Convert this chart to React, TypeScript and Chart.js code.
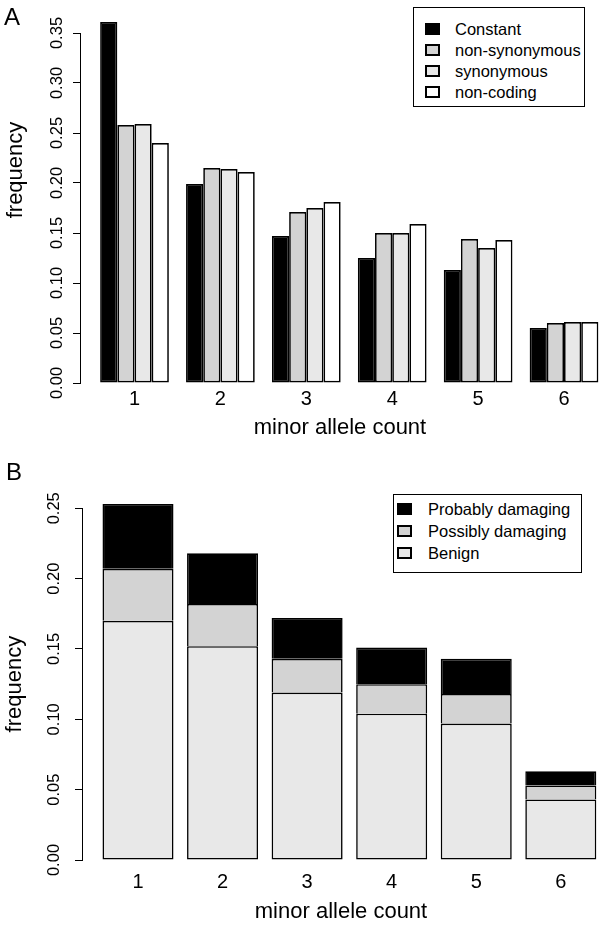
import React, { useEffect, useRef } from "react";
import { Chart, registerables } from "chart.js";

Chart.register(...registerables);

const FONT = '"Liberation Sans", Arial, Helvetica, sans-serif';

// ---------- Panel A data ----------
const minorAlleleCounts = [1, 2, 3, 4, 5, 6];
const seriesA = ["Constant", "non-synonymous", "synonymous", "non-coding"];
const constantFreq = [0.361, 0.199, 0.147, 0.125, 0.113, 0.055];
const nonSynonymousFreq = [0.258, 0.215, 0.171, 0.15, 0.144, 0.06];
const synonymousFreq = [0.259, 0.214, 0.175, 0.15, 0.135, 0.061];
const nonCodingFreq = [0.24, 0.211, 0.181, 0.159, 0.143, 0.061];
const yTicksA = [0, 0.05, 0.1, 0.15, 0.2, 0.25, 0.3, 0.35];

// ---------- Panel B data ----------
const seriesB = ["Probably damaging", "Possibly damaging", "Benign"];
const probablyDamaging = [0.046, 0.036, 0.029, 0.026, 0.025, 0.01];
const possiblyDamaging = [0.037, 0.03, 0.024, 0.021, 0.021, 0.01];
const benign = [0.17, 0.152, 0.119, 0.104, 0.097, 0.043];
const yTicksB = [0, 0.05, 0.1, 0.15, 0.2, 0.25];

// ---------- styles ----------
const fillsA = ["#000000", "#d3d3d3", "#e8e8e8", "#ffffff"];
const fillsB = ["#000000", "#d3d3d3", "#e8e8e8"];

const pts = (vals: number[]) => minorAlleleCounts.map((x, i) => ({ x, y: vals[i] }));

function yScale(ticks: number[], max: number, width: number, pad: number, title?: string) {
  return {
    type: "linear",
    min: 0,
    max,
    bounds: "data",
    afterBuildTicks: (s: any) => {
      s.ticks = ticks.map((v) => ({ value: v }));
    },
    afterFit: (s: any) => {
      s.width = width;
    },
    grid: {
      display: true,
      drawOnChartArea: false,
      drawTicks: true,
      tickLength: 7,
      color: "#000",
      lineWidth: 1,
    },
    border: { display: true, color: "#000", width: 1 },
    ticks: {
      font: { family: FONT, size: 16.5 },
      color: "#000",
      padding: pad,
      minRotation: 90,
      maxRotation: 90,
      crossAlign: "center",
      autoSkip: false,
      callback: (v: any) => Number(v).toFixed(2),
    },
    title: title
      ? {
          display: true,
          text: title,
          font: { family: FONT, size: 22 },
          color: "#000",
          padding: { top: 2, bottom: 0 },
        }
      : { display: false },
  };
}

function xScale(min: number, max: number, height: number, tickPad: number, titlePadBottom: number, stacked: boolean) {
  return {
    type: "linear",
    min,
    max,
    bounds: "data",
    offset: false,
    stacked,
    afterBuildTicks: (s: any) => {
      s.ticks = minorAlleleCounts.map((v) => ({ value: v }));
    },
    afterFit: (s: any) => {
      s.height = height;
    },
    grid: { display: false, drawTicks: false, offset: false },
    border: { display: false },
    ticks: {
      font: { family: FONT, size: 20 },
      color: "#000",
      padding: tickPad,
      maxRotation: 0,
      minRotation: 0,
      autoSkip: false,
      callback: (v: any) => String(v),
    },
    title: {
      display: true,
      text: "minor allele count",
      font: { family: FONT, size: 22 },
      color: "#000",
      padding: { top: 0, bottom: titlePadBottom },
    },
  };
}

function BoxLegend(props: {
  box: { left: number; top: number; width: number; height: number };
  labels: string[];
  fills: string[];
  rowCenters: number[];
  markerLeft: number;
  textLeft: number;
}) {
  const { box, labels, fills, rowCenters, markerLeft, textLeft } = props;
  return (
    <div
      style={{
        position: "absolute",
        left: box.left,
        top: box.top,
        width: box.width,
        height: box.height,
        border: "1.5px solid #000",
        boxSizing: "border-box",
        background: "#fff",
      }}
    >
      {labels.map((lab, i) => (
        <React.Fragment key={lab}>
          <div
            style={{
              position: "absolute",
              left: markerLeft,
              top: rowCenters[i] - 6,
              width: 15,
              height: 12,
              background: fills[i],
              border: "2px solid #000",
              boxSizing: "border-box",
            }}
          />
          <div
            style={{
              position: "absolute",
              left: textLeft,
              top: rowCenters[i] - 10,
              height: 20,
              lineHeight: "20px",
              fontSize: 16.5,
              whiteSpace: "nowrap",
            }}
          >
            {lab}
          </div>
        </React.Fragment>
      ))}
    </div>
  );
}

export default function App() {
  const refA = useRef<HTMLCanvasElement>(null);
  const refB = useRef<HTMLCanvasElement>(null);

  useEffect(() => {
    const valsA = [constantFreq, nonSynonymousFreq, synonymousFreq, nonCodingFreq];
    const chartA = new Chart(refA.current as HTMLCanvasElement, {
      type: "bar",
      data: {
        datasets: seriesA.map((name, i) => ({
          label: name,
          data: pts(valsA[i]),
          backgroundColor: fillsA[i],
          borderColor: "#000",
          borderWidth: 1.7,
          borderSkipped: false,
          clip: false,
          categoryPercentage: 0.8,
          barPercentage: 1,
        })),
      } as any,
      options: {
        animation: false,
        responsive: false,
        maintainAspectRatio: false,
        layout: { padding: { left: 0, right: 0, top: 33, bottom: 0 } },
        plugins: { legend: { display: false }, tooltip: { enabled: false }, title: { display: false } },
        scales: {
          x: xScale(0.3655, 6.419, 82, 4, 24, false),
          y: yScale(yTicksA, 0.35, 80, -1),
        },
      } as any,
    });

    const valsB = [benign, possiblyDamaging, probablyDamaging];
    const namesB = [seriesB[2], seriesB[1], seriesB[0]];
    const colsB = [fillsB[2], fillsB[1], fillsB[0]];
    const chartB = new Chart(refB.current as HTMLCanvasElement, {
      type: "bar",
      data: {
        datasets: namesB.map((name, i) => ({
          label: name,
          data: pts(valsB[i]),
          backgroundColor: colsB[i],
          borderColor: "#000",
          borderWidth: { left: 1.6, right: 1.6, top: 1.6, bottom: i === 0 ? 1.6 : 0 },
          borderSkipped: false,
          clip: false,
          categoryPercentage: 0.84,
          barPercentage: 1,
        })),
      } as any,
      options: {
        animation: false,
        responsive: false,
        maintainAspectRatio: false,
        layout: { padding: { left: 0, right: 0, top: 43.3, bottom: 0 } },
        plugins: { legend: { display: false }, tooltip: { enabled: false }, title: { display: false } },
        scales: {
          x: xScale(0.3378, 6.4636, 72, 10, 7, true),
          y: { ...yScale(yTicksB, 0.25, 82, 4, "frequency"), stacked: true },
        },
      } as any,
    });

    return () => {
      chartA.destroy();
      chartB.destroy();
    };
  }, []);

  return (
    <div
      style={{
        position: "absolute",
        left: 0,
        top: 0,
        width: 600,
        height: 932,
        background: "#fff",
        color: "#000",
        fontFamily: FONT,
        overflow: "hidden",
      }}
    >
      <canvas ref={refA} width={600} height={465} style={{ position: "absolute", left: 0, top: 0 }} />
      <canvas ref={refB} width={600} height={467} style={{ position: "absolute", left: 0, top: 465 }} />

      <div style={{ position: "absolute", left: 4, top: 5, fontSize: 24, lineHeight: "24px" }}>A</div>
      <div style={{ position: "absolute", left: 6, top: 460, fontSize: 24, lineHeight: "24px" }}>B</div>

      <div
        style={{
          position: "absolute",
          left: 15,
          top: 170,
          fontSize: 22,
          lineHeight: "26px",
          whiteSpace: "nowrap",
          transform: "translate(-50%, -50%) rotate(-90deg)",
        }}
      >
        frequency
      </div>

      <BoxLegend
        box={{ left: 413, top: 7, width: 172, height: 100 }}
        labels={seriesA}
        fills={fillsA}
        rowCenters={[21, 42, 63, 84]}
        markerLeft={11}
        textLeft={41}
      />
      <BoxLegend
        box={{ left: 393, top: 494, width: 189, height: 79 }}
        labels={seriesB}
        fills={fillsB}
        rowCenters={[14, 36, 57.5]}
        markerLeft={3}
        textLeft={34}
      />
    </div>
  );
}
